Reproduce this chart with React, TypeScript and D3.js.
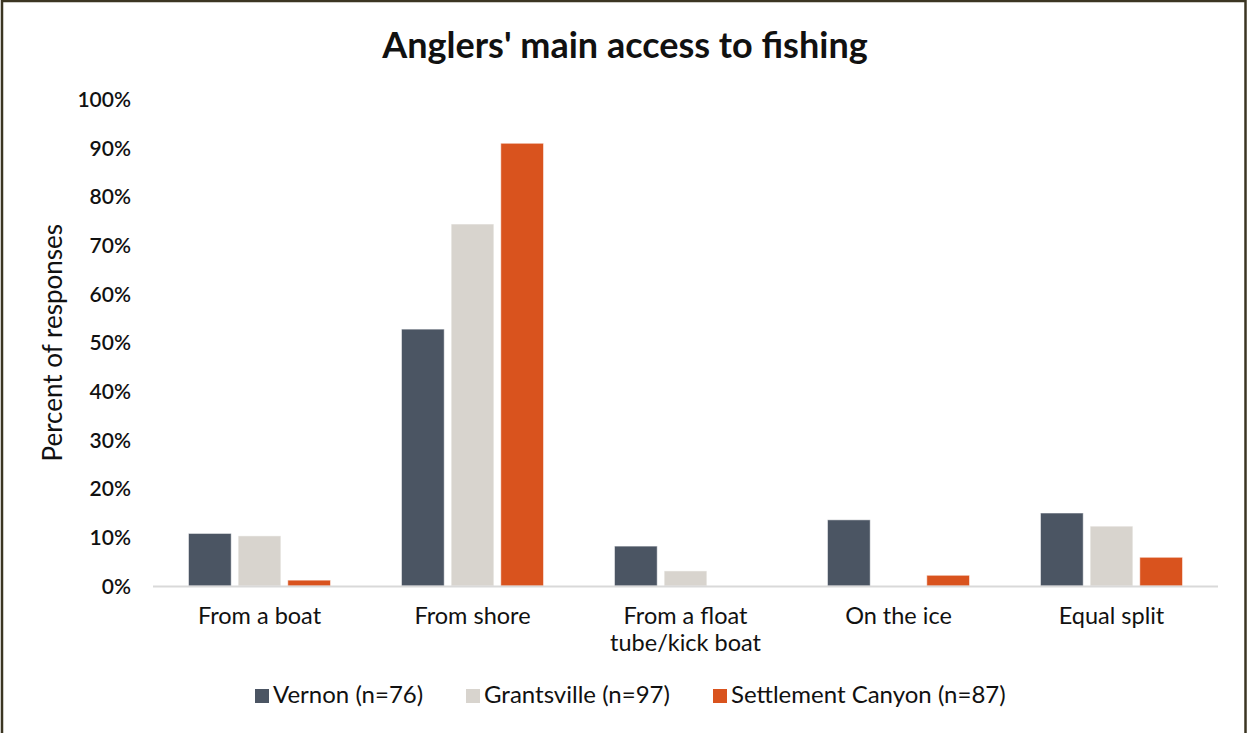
import React from "react";
import * as d3 from "d3";

const categories = ["From a boat", "From shore", "From a float\ntube/kick boat", "On the ice", "Equal split"];
const seriesNames = ["Vernon (n=76)", "Grantsville (n=97)", "Settlement Canyon (n=87)"];
const vernon = [10.8, 52.8, 8.2, 13.6, 15.0];
const grantsville = [10.3, 74.4, 3.1, 0, 12.3];
const settlement = [1.2, 91.0, 0, 2.2, 5.9];
const colors = ["#4b5563", "#d8d4ce", "#d9531e"];
const yTicks = [0, 10, 20, 30, 40, 50, 60, 70, 80, 90, 100];

const W = 1247;
const H = 733;
const FONT = "Lato, 'Open Sans', sans-serif";

export default function App() {
  const values = [vernon, grantsville, settlement];
  const x0 = d3.scaleBand<string>().domain(categories).range([153, 1218]).paddingInner(0).paddingOuter(0);
  const bw = x0.bandwidth();
  const x1 = d3.scaleBand<string>().domain(seriesNames).range([35.5, bw - 35.5]).paddingInner(0.14).paddingOuter(0);
  const y = d3.scaleLinear().domain([0, 100]).range([586, 99.5]);

  const legendX = [255, 466, 713];

  return (
    <svg width={W} height={H} style={{ position: "absolute", left: 0, top: 0, background: "#fff" }} fontFamily={FONT}>
      <rect x={0} y={0} width={W} height={H} fill="#fff" />
      <text x={625} y={58} textAnchor="middle" fontSize={36} fontWeight={700} fill="#111">
        Anglers' main access to fishing
      </text>
      {yTicks.map((t) => (
        <text key={t} x={131} y={y(t)} dy="0.36em" textAnchor="end" fontSize={21} fontWeight={600} fill="#111">
          {t}%
        </text>
      ))}
      <text transform={`translate(62,${y(50)}) rotate(-90)`} textAnchor="middle" fontSize={26} fill="#111">
        Percent of responses
      </text>
      {categories.map((c, ci) => (
        <g key={c} transform={`translate(${x0(c)},0)`}>
          {seriesNames.map((s, si) => {
            const v = values[si][ci];
            if (v <= 0) return null;
            return (
              <rect
                key={s}
                x={x1(s)}
                y={y(v)}
                width={x1.bandwidth()}
                height={y(0) - y(v)}
                fill={colors[si]}
                stroke="#ffffff"
                strokeOpacity={0.5}
                strokeWidth={1}
              />
            );
          })}
          {c.split("\n").map((line, li) => (
            <text key={li} x={bw / 2} y={624 + li * 27} textAnchor="middle" fontSize={23.5} fill="#111">
              {line}
            </text>
          ))}
        </g>
      ))}
      <line x1={153} x2={1218} y1={586.5} y2={586.5} stroke="#d9d9d9" strokeWidth={2} />
      {seriesNames.map((s, si) => (
        <g key={s}>
          <rect x={legendX[si]} y={689} width={14} height={14} fill={colors[si]} />
          <text x={legendX[si] + 18} y={703} fontSize={24} fill="#111">
            {s}
          </text>
        </g>
      ))}
      <rect x={2} y={1} width={1243.5} height={H + 10} fill="none" stroke="#3b3522" strokeWidth={2.5} />
    </svg>
  );
}
